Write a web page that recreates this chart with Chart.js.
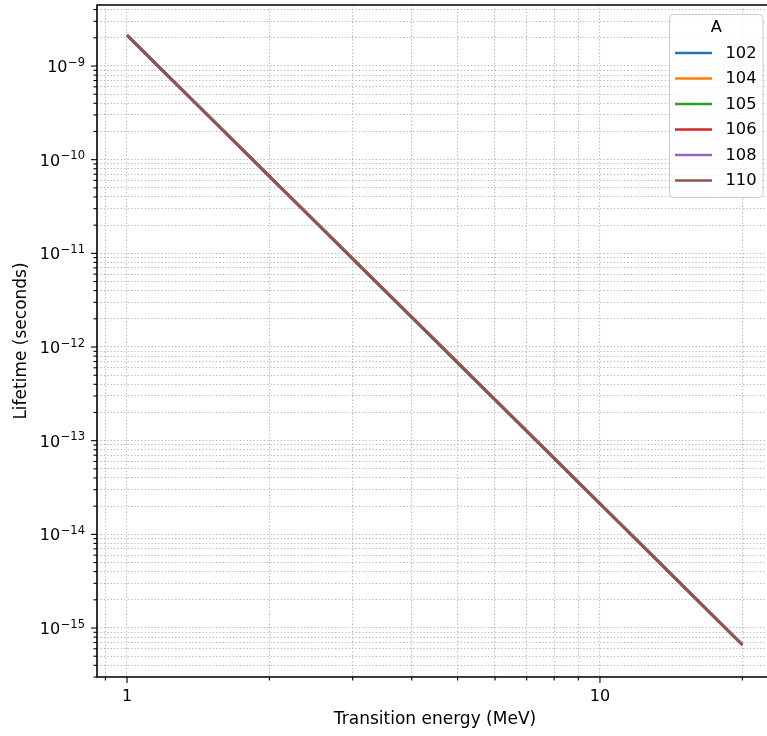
<!DOCTYPE html>
<html>
<head>
<meta charset="utf-8">
<script src="https://cdn.jsdelivr.net/npm/chart.js@4/dist/chart.umd.min.js"></script>
<style>
  html, body { margin: 0; padding: 0; background: #fff; overflow: hidden; width: 767px; height: 736px; }
  canvas { display: block; }
</style>
</head>
<body>
<canvas id="c" width="780" height="736"></canvas>
<script>
// ---- data ----
const energies = [1, 2, 5, 10, 20]; // MeV
const seriesLabels = ['102', '104', '105', '106', '108', '110'];
const life102 = [2.15e-9, 6.72e-11, 6.88e-13, 2.15e-14, 6.70e-16];
const life104 = [2.14e-9, 6.69e-11, 6.85e-13, 2.14e-14, 6.67e-16];
const life105 = [2.13e-9, 6.67e-11, 6.83e-13, 2.13e-14, 6.65e-16];
const life106 = [2.13e-9, 6.65e-11, 6.81e-13, 2.13e-14, 6.63e-16];
const life108 = [2.12e-9, 6.62e-11, 6.78e-13, 2.12e-14, 6.60e-16];
const life110 = [2.11e-9, 6.59e-11, 6.75e-13, 2.11e-14, 6.57e-16];
const seriesValues = [life102, life104, life105, life106, life108, life110];
const seriesColors = ['#1f77b4', '#ff7f0e', '#2ca02c', '#d62728', '#9467bd', '#8c564b'];

const xTickValues = [0.9, 1, 2, 3, 4, 5, 6, 7, 8, 9, 10, 20];
const xTickLabels = {1: '1', 10: '10'};
const yDecades = [-16, -15, -14, -13, -12, -11, -10, -9];
const yExponentLabels = ['−16', '−15', '−14', '−13', '−12', '−11', '−10', '−9'];

const FONT = 'DejaVu Sans';
Chart.defaults.font.family = FONT;
Chart.defaults.font.size = 16;
Chart.defaults.color = '#000';

const X_MIN = 0.864, X_MAX = 23.22, Y_MIN = 3.0e-16, Y_MAX = 4.48e-9;

function buildYTicks() {
  const t = [];
  yDecades.forEach((d) => {
    for (let m = 1; m <= 9; m++) {
      const v = m * Math.pow(10, d);
      if (v >= Y_MIN && v <= Y_MAX) t.push({ value: v, major: m === 1 });
    }
  });
  return t;
}

const datasets = seriesLabels.map((lab, i) => ({
  label: lab,
  data: energies.map((e, j) => ({ x: e, y: seriesValues[i][j] })),
  borderColor: seriesColors[i],
  backgroundColor: seriesColors[i],
  borderWidth: 2.6,
  pointRadius: 0,
  tension: 0,
  fill: false,
  order: seriesLabels.length - i
}));

const gridOpts = { color: '#b8b8b8', lineWidth: 1.1, drawTicks: false };
const borderOpts = { display: false, dash: [1.3, 2.1] };

const decorPlugin = {
  id: 'decor',
  afterDraw(chart) {
    const ctx = chart.ctx;
    const a = chart.chartArea;
    const xs = chart.scales.x, ys = chart.scales.y;
    ctx.save();
    // spines
    ctx.strokeStyle = '#000';
    ctx.lineWidth = 1.6;
    ctx.beginPath();
    ctx.moveTo(a.left, a.bottom); ctx.lineTo(a.left, a.top); ctx.lineTo(a.right, a.top);
    ctx.lineTo(a.right, a.bottom); ctx.closePath();
    ctx.stroke();
    // tick marks
    ctx.lineWidth = 1.1;
    xs.ticks.forEach(t => {
      const px = xs.getPixelForValue(t.value);
      const len = t.major ? 6 : 3.5;
      ctx.beginPath(); ctx.moveTo(px, a.bottom); ctx.lineTo(px, a.bottom + len); ctx.stroke();
    });
    ys.ticks.forEach(t => {
      const py = ys.getPixelForValue(t.value);
      const len = t.major ? 6 : 3.5;
      ctx.beginPath(); ctx.moveTo(a.left, py); ctx.lineTo(a.left - len, py); ctx.stroke();
    });
    // y tick labels (10 with superscript exponent), placed by the y scale
    ctx.fillStyle = '#000';
    ctx.textBaseline = 'alphabetic';
    ctx.textAlign = 'left';
    yDecades.forEach((d, i) => {
      const v = Math.pow(10, d);
      if (v < Y_MIN || v > Y_MAX) return;
      const py = ys.getPixelForValue(v);
      const right = a.left - 12.5;
      ctx.font = '11.5px "' + FONT + '"';
      const ew = ctx.measureText(yExponentLabels[i]).width;
      ctx.font = '16px "' + FONT + '"';
      const bw = ctx.measureText('10').width;
      const x0 = right - ew - bw;
      ctx.fillText('10', x0, py + 6);
      ctx.font = '11.5px "' + FONT + '"';
      ctx.fillText(yExponentLabels[i], x0 + bw + 0.5, py - 0.3);
    });
    // legend
    const bx = 669.5, by = 14.5, bw2 = 93.5, bh = 183, r = 4;
    ctx.beginPath();
    ctx.moveTo(bx + r, by);
    ctx.arcTo(bx + bw2, by, bx + bw2, by + bh, r);
    ctx.arcTo(bx + bw2, by + bh, bx, by + bh, r);
    ctx.arcTo(bx, by + bh, bx, by, r);
    ctx.arcTo(bx, by, bx + bw2, by, r);
    ctx.closePath();
    ctx.fillStyle = 'rgba(255,255,255,0.8)';
    ctx.fill();
    ctx.strokeStyle = '#cccccc';
    ctx.lineWidth = 1;
    ctx.stroke();
    ctx.fillStyle = '#000';
    ctx.font = '16.3px "' + FONT + '"';
    ctx.textBaseline = 'middle';
    ctx.textAlign = 'center';
    ctx.fillText('A', bx + bw2 / 2, 28);
    ctx.textAlign = 'left';
    chart.data.datasets.forEach((ds, i) => {
      const yy = 53 + i * 25.5;
      ctx.strokeStyle = ds.borderColor;
      ctx.lineWidth = 2.6;
      ctx.beginPath(); ctx.moveTo(675, yy); ctx.lineTo(712, yy); ctx.stroke();
      ctx.fillStyle = '#000';
      ctx.fillText(ds.label, 725.5, yy + 0.5);
    });
    ctx.restore();
  }
};

new Chart(document.getElementById('c'), {
  type: 'line',
  data: { datasets },
  options: {
    responsive: false,
    animation: false,
    devicePixelRatio: 1,
    layout: { padding: { left: 0, top: 5, right: 7, bottom: 0 } },
    plugins: { legend: { display: false }, tooltip: { enabled: false } },
    scales: {
      x: {
        type: 'logarithmic',
        min: X_MIN, max: X_MAX,
        bounds: 'data',
        grid: Object.assign({}, gridOpts),
        border: Object.assign({}, borderOpts),
        afterBuildTicks(scale) { scale.ticks = xTickValues.map(v => ({ value: v, major: v === 1 || v === 10 })); },
        afterFit(scale) { scale.height = 59; scale.paddingLeft = 0; scale.paddingRight = 0; },
        ticks: {
          autoSkip: false, maxRotation: 0, padding: 10,
          callback: (v) => (xTickLabels[v] !== undefined ? xTickLabels[v] : '')
        },
        title: { display: true, text: 'Transition energy (MeV)', font: { size: 17 }, padding: { top: 0, bottom: 6 } }
      },
      y: {
        type: 'logarithmic',
        min: Y_MIN, max: Y_MAX,
        bounds: 'data',
        grid: Object.assign({}, gridOpts),
        border: Object.assign({}, borderOpts),
        afterBuildTicks(scale) { scale.ticks = buildYTicks(); },
        afterFit(scale) { scale.width = 97; scale.paddingTop = 0; scale.paddingBottom = 0; },
        ticks: { display: false },
        title: { display: true, text: 'Lifetime (seconds)', font: { size: 17 }, padding: { top: 11, bottom: 0 } }
      }
    }
  },
  plugins: [decorPlugin]
});
</script>
</body>
</html>
